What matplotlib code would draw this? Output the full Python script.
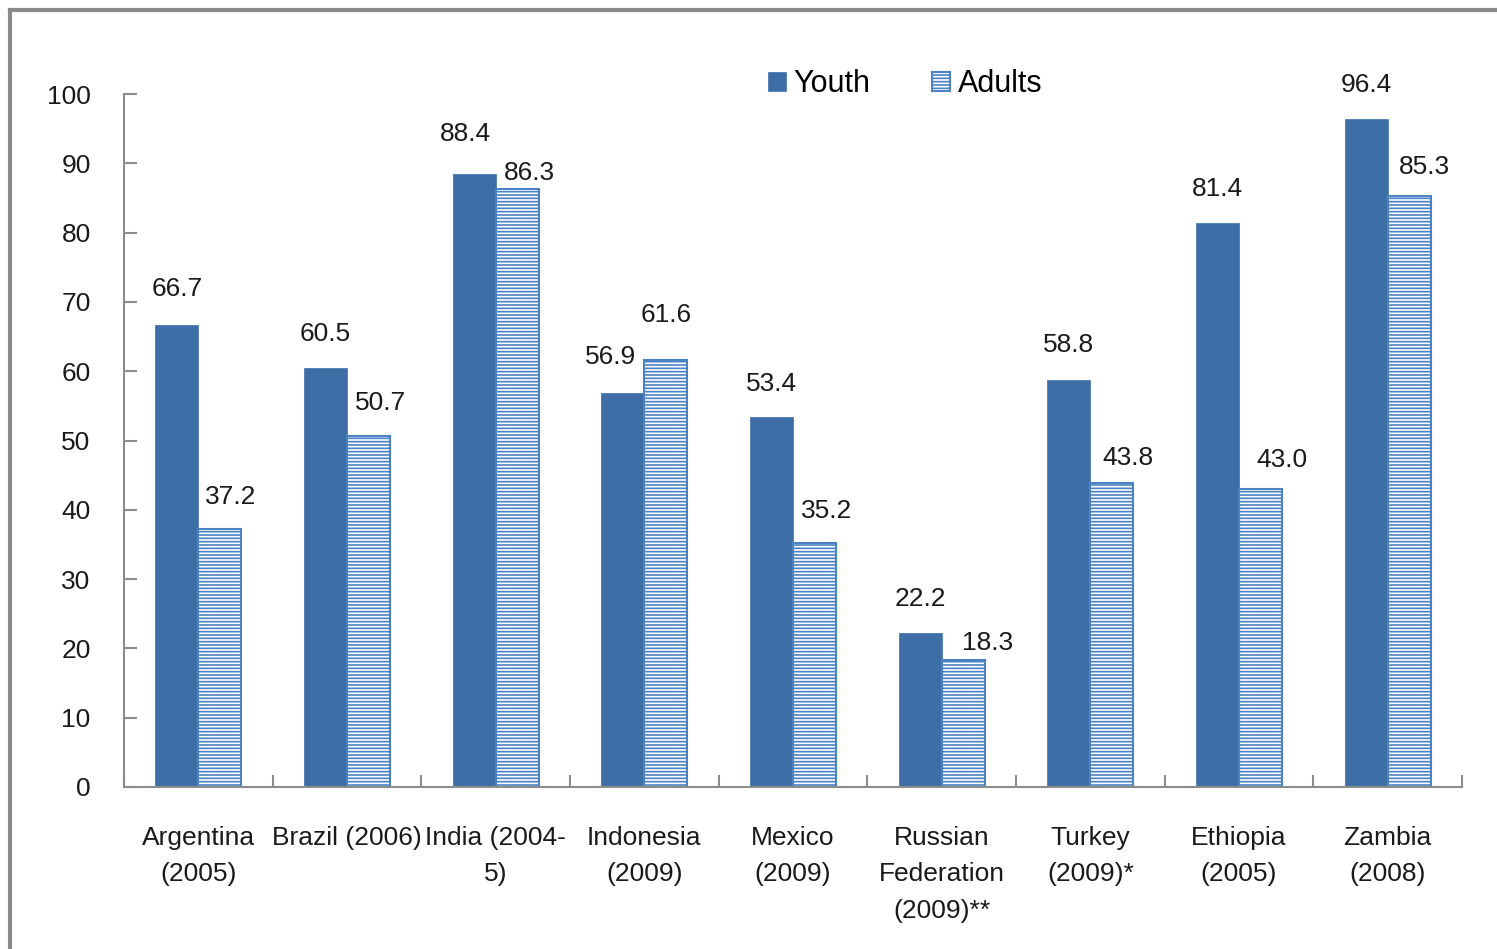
import matplotlib
matplotlib.use("Agg")
import matplotlib.pyplot as plt
import numpy as np
from matplotlib.lines import Line2D

plt.rcParams['font.family'] = ['Liberation Sans', 'DejaVu Sans']
plt.rcParams['hatch.linewidth'] = 1.2

categories = ["Argentina\n(2005)", "Brazil (2006)", "India (2004-\n5)", "Indonesia\n(2009)",
              "Mexico\n(2009)", "Russian\nFederation\n(2009)**", "Turkey\n(2009)*",
              "Ethiopia\n(2005)", "Zambia\n(2008)"]
youth = [66.7, 60.5, 88.4, 56.9, 53.4, 22.2, 58.8, 81.4, 96.4]
adults = [37.2, 50.7, 86.3, 61.6, 35.2, 18.3, 43.8, 43.0, 85.3]
yticks = [0, 10, 20, 30, 40, 50, 60, 70, 80, 90, 100]

# label nudges (pixels) to mimic the original's label placement
youth_dx = [0, 0, -9, -12, 0, 0, 0, 0, 0]
youth_dy = [36, 34, 40, 36, 33, 34, 35, 34, 34]
adult_dx = [11, 12, 12, 0, 12, 24, 16, 21, 15]
adult_dy = [32, 33, 16, 45, 32, 17, 25, 29, 29]

youth_color = '#3D6FA6'
adult_edge = '#4A82C4'
axis_gray = '#8C8C8C'

fig = plt.figure(figsize=(14.97, 9.49), dpi=100)
ax = fig.add_axes([124/1497, 1-787/949, (1462-124)/1497, (787-94)/949])

x = np.arange(len(categories))
w = 0.29
b1 = ax.bar(x - w/2, youth, w, color=youth_color, edgecolor=youth_color, linewidth=0.5, label='Youth', zorder=2)
b2 = ax.bar(x + w/2, adults, w, color='white', edgecolor=adult_edge, hatch='-----', linewidth=1.5, label='Adults', zorder=2)

fs = 19
px = 0.72  # points per pixel at 100 dpi
for xi, v, dx, dy in zip(x - w/2, youth, youth_dx, youth_dy):
    ax.annotate(f"{v:.1f}", (xi, v), xytext=(dx*px, dy*px), textcoords='offset points',
                ha='center', va='center', fontsize=fs, color='#1a1a1a')
for xi, v, dx, dy in zip(x + w/2, adults, adult_dx, adult_dy):
    ax.annotate(f"{v:.1f}", (xi, v), xytext=(dx*px, dy*px), textcoords='offset points',
                ha='center', va='center', fontsize=fs, color='#1a1a1a')

ax.set_xlim(-0.5, len(categories) - 0.5)
ax.set_ylim(0, 100)
ax.set_yticks(yticks)
ax.set_yticklabels([str(t) for t in yticks], fontsize=fs, color='#1a1a1a')
ax.set_xticks(np.arange(len(categories) + 1) - 0.5, minor=False)
ax.set_xticklabels([''] * (len(categories) + 1))
ax.set_xticks(x, minor=True)
ax.set_xticklabels(categories, minor=True, fontsize=fs, color='#1a1a1a', linespacing=1.65)
ax.tick_params(axis='x', which='minor', length=0, pad=28)
ax.tick_params(axis='x', which='major', direction='in', length=9, color=axis_gray, width=1.5)
ax.tick_params(axis='y', direction='in', length=9, color=axis_gray, width=1.5, pad=24)

for s in ['top', 'right']:
    ax.spines[s].set_visible(False)
for s in ['left', 'bottom']:
    ax.spines[s].set_color(axis_gray)
    ax.spines[s].set_linewidth(1.5)

leg = fig.legend(handles=[b1, b2], labels=['Youth', 'Adults'], loc='center',
                 bbox_to_anchor=(905/1497, 1-84/949), ncol=2, frameon=False,
                 fontsize=22, handlelength=0.6, handleheight=0.6, handletextpad=0.25,
                 columnspacing=2.0)

# outer frame
fig.add_artist(Line2D([10/1497, 10/1497], [0, 1-10/949], transform=fig.transFigure,
                      color='#8A8A8A', linewidth=3))
fig.add_artist(Line2D([10/1497, 1], [1-10/949, 1-10/949], transform=fig.transFigure,
                      color='#8A8A8A', linewidth=3))

fig.savefig('out.png', dpi=100)
